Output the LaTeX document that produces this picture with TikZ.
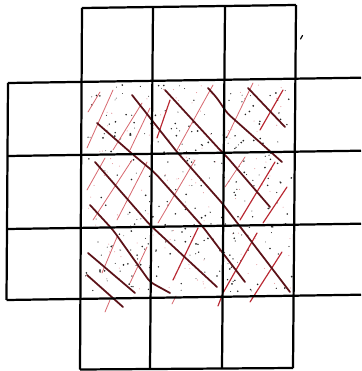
\documentclass[tikz,border=0pt]{standalone}
\usepackage{tikz}
\definecolor{hatchdark}{RGB}{92,18,24}
\definecolor{hatchred}{RGB}{185,40,50}
\definecolor{hatchlight}{RGB}{215,105,112}

\begin{document}
\begin{tikzpicture}[x=0.03cm, y=-0.03cm,
    gridline/.style={line width=1.9pt, black},
    hatch/.style={line width=1.5pt, draw=hatchdark, line cap=round, line join=round, rounded corners=4pt},
    cross/.style={line width=0.7pt, draw=hatchlight, line cap=round},
    crossdark/.style={line width=1.0pt, draw=hatchred, line cap=round, line join=round},
    speck/.style={fill=black!85},
    pinkspeck/.style={fill=hatchlight!70}
]
\useasboundingbox (0,0) rectangle (361,371);

% Speckle in the 3x3 centre
\pgfmathsetseed{4711}
\foreach \k in {1,...,300} {
    \pgfmathsetmacro{\dx}{85+rnd*207}
    \pgfmathsetmacro{\dy}{85+rnd*208}
    \pgfmathsetmacro{\dr}{0.35+rnd*0.5}
    \fill[speck] (\dx,\dy) circle (\dr pt);
}
\foreach \k in {1,...,120} {
    \pgfmathsetmacro{\dx}{85+rnd*207}
    \pgfmathsetmacro{\dy}{85+rnd*208}
    \fill[pinkspeck] (\dx,\dy) circle (0.45pt);
}

% Light cross hatching (/)
\draw[cross] (87,148) -- (113,90);
\draw[cross] (88,112) -- (100,92);
\draw[cross] (113,150) -- (142,103);
\draw[cross] (130,150) -- (150,108);
\draw[cross] (87,190) -- (105,158);
\draw[cross] (93,220) -- (132,160);
\draw[cross] (117,220) -- (147,162);
\draw[cross] (102,273) -- (117,237);
\draw[cross] (130,283) -- (147,247);
\draw[cross] (105,312) -- (110,300);
\draw[cross] (177,150) -- (213,85);
\draw[cross] (158,223) -- (195,160);
\draw[cross] (227,137) -- (253,83);
\draw[cross] (225,187) -- (245,157);
\draw[cross] (172,304) -- (176,296);

% Red cross hatching (/)
\draw[crossdark] (157,138) -- (170,100);
\draw[crossdark] (260,130) -- (283,90);
\draw[crossdark] (173,280) -- (198,228);
\draw[crossdark] (240,220) -- (275,162);
\draw[crossdark] (263,223) -- (287,187);
\draw[crossdark] (218,306) -- (223,293) -- (257,233);
\draw[crossdark] (250,302) -- (282,252);

% Dark hatching (\)
\draw[hatch] (248,88) -- (285,127);
\draw[hatch] (208,88) -- (217,98) -- (227,113) -- (282,162);
\draw[hatch] (165,90) -- (220,150) -- (227,157) -- (270,207);
\draw[hatch] (132,95) -- (177,152) -- (222,203) -- (290,292);
\draw[hatch] (97,123) -- (130,152) -- (155,173) -- (203,227) -- (222,252) -- (245,282);
\draw[hatch] (95,162) -- (150,225) -- (217,287);
\draw[hatch] (90,205) -- (113,230) -- (150,282) -- (170,293);
\draw[hatch] (88,253) -- (135,293);
\draw[hatch] (87,275) -- (123,307);

% Grid, rows
\draw[gridline] (82,8) -- (296,5);
\draw[gridline] (8,83) -- (361,77.7);
\draw[gridline] (7.5,156) -- (361,150.7);
\draw[gridline] (7,229) -- (361,223.7);
\draw[gridline] (6.5,300) -- (361,294.7);
\draw[gridline] (80,369.5) -- (293,368);

% Grid, columns
\draw[gridline] (8,83) -- (6.5,300);
\draw[gridline] (82,8) -- (80,369.5);
\draw[gridline] (153,7) -- (150,369);
\draw[gridline] (225,6) -- (222,368.5);
\draw[gridline] (296,5) -- (293,368);

% stray pen mark
\draw[line width=1pt, line cap=round] (300.5,39) -- (302.5,35.5);

\end{tikzpicture}
\end{document}
